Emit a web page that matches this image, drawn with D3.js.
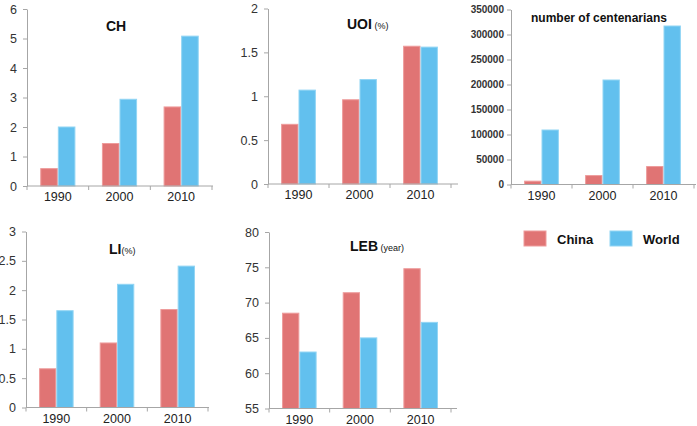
<!DOCTYPE html>
<html><head><meta charset="utf-8">
<script src="https://cdn.jsdelivr.net/npm/d3@7/dist/d3.min.js"></script>
<style>
body{margin:0;background:#fff;}
text{font-family:"Liberation Sans",Arial,sans-serif;}
</style></head>
<body><svg id="c" width="697" height="426"></svg>
<script>
const years = ["1990", "2000", "2010"];
const seriesNames = ["China", "World"];
const colors = ["#E07474", "#62C0EE"];
const strokes = ["#EE9C9C", "#92D5F4"];

const chChina = [0.59, 1.44, 2.68];
const chWorld = [2.0, 2.94, 5.08];
const chTicks = [0, 1, 2, 3, 4, 5, 6];

const uoiChina = [0.68, 0.96, 1.57];
const uoiWorld = [1.07, 1.19, 1.56];
const uoiTicks = [0, 0.5, 1, 1.5, 2];

const centChina = [6681, 17877, 35934];
const centWorld = [109000, 209000, 317000];
const centTicks = [0, 50000, 100000, 150000, 200000, 250000, 300000, 350000];

const liChina = [0.66, 1.10, 1.67];
const liWorld = [1.65, 2.10, 2.41];
const liTicks = [0, 0.5, 1, 1.5, 2, 2.5, 3];

const lebChina = [68.5, 71.4, 74.8];
const lebWorld = [63.0, 65.0, 67.2];
const lebTicks = [55, 60, 65, 70, 75, 80];

const svg = d3.select("#c");

const panels = [
  {china: chChina, world: chWorld, ticks: chTicks, x0: 27, x1: 212, yTop: 9, yBot: 186,
   title: [["CH", 14]], tx: 106, ty: 31, tickFont: 12.5, axisEnd: 213},
  {china: uoiChina, world: uoiWorld, ticks: uoiTicks, x0: 268, x1: 451, yTop: 8.5, yBot: 184,
   title: [["UOI", 14], [" (%)", 9]], tx: 347, ty: 29, tickFont: 12.5, axisEnd: 458},
  {china: centChina, world: centWorld, ticks: centTicks, x0: 511, x1: 694, yTop: 9.5, yBot: 184.5,
   title: [["number of centenarians", 12]], tx: 531, ty: 22, tickFont: 10, tickBold: true, axisEnd: 696},
  {china: liChina, world: liWorld, ticks: liTicks, x0: 26, x1: 208, yTop: 231.5, yBot: 407.5,
   title: [["LI", 14], ["(%)", 9]], tx: 109, ty: 254, tickFont: 12.5, axisEnd: 209},
  {china: lebChina, world: lebWorld, ticks: lebTicks, x0: 269, x1: 451, yTop: 232, yBot: 408.5,
   title: [["LEB", 14], [" (year)", 9]], tx: 350, ty: 251, tickFont: 12.5, axisEnd: 457}
];

const axisColor = "#A6A6A6";

panels.forEach(p => {
  const g = svg.append("g");
  const x = d3.scaleBand().domain(years).range([p.x0, p.x1]).padding(0);
  const xs = d3.scaleBand().domain(seriesNames).range([x.bandwidth() * 0.215, x.bandwidth() * 0.785]).padding(0);
  const y = d3.scaleLinear().domain([p.ticks[0], p.ticks[p.ticks.length - 1]]).range([p.yBot, p.yTop]);

  // bars
  years.forEach((yr, i) => {
    [p.china[i], p.world[i]].forEach((v, s) => {
      g.append("rect")
        .attr("x", x(yr) + xs(seriesNames[s]) + 0.5)
        .attr("y", y(v))
        .attr("width", xs.bandwidth() - 1)
        .attr("height", y(p.ticks[0]) - y(v))
        .attr("fill", colors[s])
        .attr("stroke", strokes[s])
        .attr("stroke-width", 1);
    });
  });

  // y axis
  const ya = g.append("g").attr("transform", `translate(${p.x0},0)`)
    .call(d3.axisLeft(y).tickValues(p.ticks).tickFormat(d => String(d)).tickSize(4).tickSizeOuter(0).tickPadding(p.tickBold ? 3 : 6));
  ya.select(".domain").attr("stroke", axisColor);
  ya.selectAll(".tick line").attr("stroke", axisColor);
  ya.selectAll(".tick text").attr("fill", "#333")
    .style("font-size", p.tickFont + "px")
    .style("font-weight", p.tickBold ? "bold" : "normal")
    .style("font-family", "'Liberation Sans',sans-serif");

  // x axis
  g.append("line").attr("x1", p.x0).attr("x2", p.axisEnd).attr("y1", p.yBot).attr("y2", p.yBot).attr("stroke", axisColor);
  const bounds = years.map(yr => x(yr)).concat([p.x1]);
  g.selectAll(".xt").data(bounds).enter().append("line")
    .attr("x1", d => d).attr("x2", d => d).attr("y1", p.yBot).attr("y2", p.yBot + 4).attr("stroke", axisColor);
  g.selectAll(".xl").data(years).enter().append("text")
    .attr("x", d => x(d) + x.bandwidth() / 2)
    .attr("y", p.yBot + 15)
    .attr("text-anchor", "middle")
    .attr("fill", "#222")
    .style("font-size", "12.5px")
    .text(d => d);

  // title
  const t = g.append("text").attr("x", p.tx).attr("y", p.ty).attr("fill", "#111");
  p.title.forEach(([s, fs], k) => {
    t.append("tspan").text(s).style("font-size", fs + "px").style("font-weight", k === 0 ? "bold" : "normal");
  });
});

// legend
const legX = [524, 610];
seriesNames.forEach((n, i) => {
  svg.append("rect").attr("x", legX[i]).attr("y", 231).attr("width", 22).attr("height", 15)
    .attr("fill", colors[i]).attr("stroke", strokes[i]);
  svg.append("text").attr("x", legX[i] + 33).attr("y", 243.5).text(n)
    .style("font-size", "13px").style("font-weight", "bold").attr("fill", "#111");
});
</script></body></html>
